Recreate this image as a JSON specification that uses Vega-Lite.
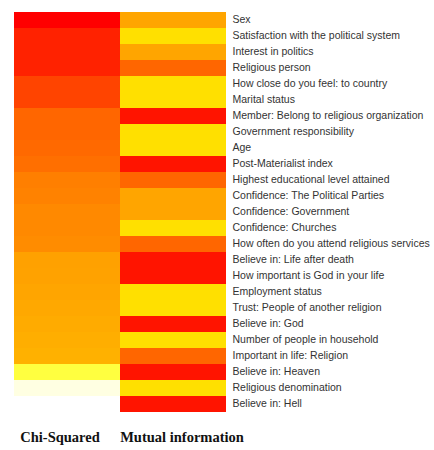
{
  "$schema": "https://vega.github.io/schema/vega-lite/v6.json",
  "width": 212,
  "height": 400,
  "autosize": "none",
  "padding": {"left": 14, "top": 12, "right": 208, "bottom": 38},
  "background": "white",
  "config": {"view": {"stroke": null}},
  "data": {
    "values": [
      {"feature": "Sex", "method": "Chi-Squared", "v": 0},
      {"feature": "Satisfaction with the political system", "method": "Chi-Squared", "v": 0.33},
      {"feature": "Interest in politics", "method": "Chi-Squared", "v": 0.33},
      {"feature": "Religious person", "method": "Chi-Squared", "v": 0.33},
      {"feature": "How close do you feel: to country", "method": "Chi-Squared", "v": 0.67},
      {"feature": "Marital status", "method": "Chi-Squared", "v": 0.67},
      {"feature": "Member: Belong to religious organization", "method": "Chi-Squared", "v": 1.0},
      {"feature": "Government responsibility", "method": "Chi-Squared", "v": 1.0},
      {"feature": "Age", "method": "Chi-Squared", "v": 1.05},
      {"feature": "Post-Materialist index", "method": "Chi-Squared", "v": 1.15},
      {"feature": "Highest educational level attained", "method": "Chi-Squared", "v": 1.4},
      {"feature": "Confidence: The Political Parties", "method": "Chi-Squared", "v": 1.45},
      {"feature": "Confidence: Government", "method": "Chi-Squared", "v": 1.55},
      {"feature": "Confidence: Churches", "method": "Chi-Squared", "v": 1.55},
      {"feature": "How often do you attend religious services", "method": "Chi-Squared", "v": 1.6},
      {"feature": "Believe in: Life after death", "method": "Chi-Squared", "v": 1.93},
      {"feature": "How important is God in your life", "method": "Chi-Squared", "v": 1.95},
      {"feature": "Employment status", "method": "Chi-Squared", "v": 2.0},
      {"feature": "Trust: People of another religion", "method": "Chi-Squared", "v": 2.05},
      {"feature": "Believe in: God", "method": "Chi-Squared", "v": 2.1},
      {"feature": "Number of people in household", "method": "Chi-Squared", "v": 2.15},
      {"feature": "Important in life: Religion", "method": "Chi-Squared", "v": 2.2},
      {"feature": "Believe in: Heaven", "method": "Chi-Squared", "v": 4.0},
      {"feature": "Religious denomination", "method": "Chi-Squared", "v": 4.85},
      {"feature": "Believe in: Hell", "method": "Chi-Squared", "v": 5.0},
      {"feature": "Sex", "method": "Mutual information", "v": 2},
      {"feature": "Satisfaction with the political system", "method": "Mutual information", "v": 3},
      {"feature": "Interest in politics", "method": "Mutual information", "v": 2},
      {"feature": "Religious person", "method": "Mutual information", "v": 1},
      {"feature": "How close do you feel: to country", "method": "Mutual information", "v": 3},
      {"feature": "Marital status", "method": "Mutual information", "v": 3},
      {"feature": "Member: Belong to religious organization", "method": "Mutual information", "v": 0.2},
      {"feature": "Government responsibility", "method": "Mutual information", "v": 3},
      {"feature": "Age", "method": "Mutual information", "v": 3},
      {"feature": "Post-Materialist index", "method": "Mutual information", "v": 0.2},
      {"feature": "Highest educational level attained", "method": "Mutual information", "v": 1},
      {"feature": "Confidence: The Political Parties", "method": "Mutual information", "v": 2},
      {"feature": "Confidence: Government", "method": "Mutual information", "v": 2},
      {"feature": "Confidence: Churches", "method": "Mutual information", "v": 3},
      {"feature": "How often do you attend religious services", "method": "Mutual information", "v": 1},
      {"feature": "Believe in: Life after death", "method": "Mutual information", "v": 0.2},
      {"feature": "How important is God in your life", "method": "Mutual information", "v": 0.2},
      {"feature": "Employment status", "method": "Mutual information", "v": 3},
      {"feature": "Trust: People of another religion", "method": "Mutual information", "v": 3},
      {"feature": "Believe in: God", "method": "Mutual information", "v": 0.2},
      {"feature": "Number of people in household", "method": "Mutual information", "v": 3},
      {"feature": "Important in life: Religion", "method": "Mutual information", "v": 1},
      {"feature": "Believe in: Heaven", "method": "Mutual information", "v": 0.2},
      {"feature": "Religious denomination", "method": "Mutual information", "v": 3},
      {"feature": "Believe in: Hell", "method": "Mutual information", "v": 0.2}
    ]
  },
  "mark": {"type": "rect", "strokeWidth": 0},
  "encoding": {
    "x": {
      "field": "method",
      "type": "nominal",
      "sort": ["Chi-Squared", "Mutual information"],
      "scale": {"paddingInner": 0, "paddingOuter": 0},
      "axis": {
        "orient": "bottom",
        "title": null,
        "labelAngle": 0,
        "ticks": false,
        "domain": false,
        "labelPadding": 18,
        "labelFont": "Liberation Serif",
        "labelFontWeight": "bold",
        "labelFontSize": 14.5,
        "labelColor": "#111111",
        "labelLimit": 0,
        "labelOverlap": false,
        "labelOffset": {"condition": {"test": "datum.value === 'Chi-Squared'", "value": -7}, "value": 9}
      }
    },
    "y": {
      "field": "feature",
      "type": "nominal",
      "sort": null,
      "scale": {"paddingInner": 0, "paddingOuter": 0},
      "axis": {
        "orient": "right",
        "title": null,
        "ticks": false,
        "domain": false,
        "labelPadding": 6,
        "labelFont": "Liberation Sans",
        "labelFontSize": 10.5,
        "labelColor": "#333333",
        "labelLimit": 0
      }
    },
    "color": {
      "field": "v",
      "type": "quantitative",
      "legend": null,
      "scale": {
        "domain": [0, 1, 2, 3, 4, 5],
        "range": ["#ff0000", "#ff6600", "#ffa500", "#ffe000", "#ffff40", "#ffffff"],
        "interpolate": "rgb"
      }
    }
  }
}
